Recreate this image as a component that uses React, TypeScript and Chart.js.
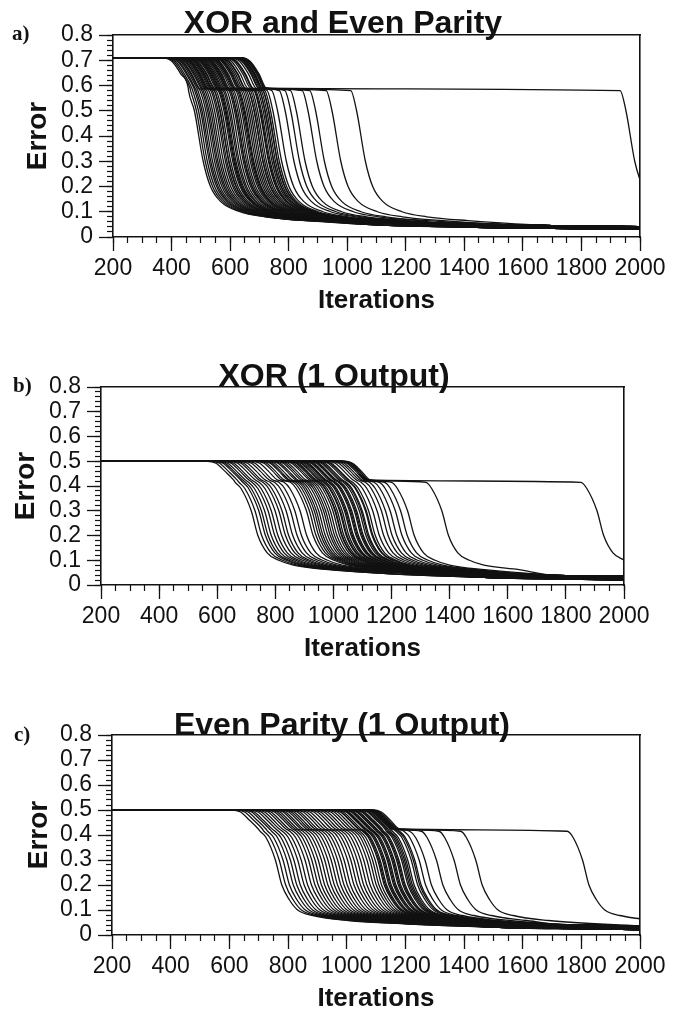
import React, { useEffect, useRef } from 'react';
import { Chart, registerables } from 'chart.js';

Chart.register(...registerables);

const FONT = "'Liberation Sans', Arial, Helvetica, sans-serif";
const SERIF = "'Liberation Serif', 'DejaVu Serif', serif";
const INK = '#121212';

// ---------- shared axes ----------
const xTickValues = [200, 400, 600, 800, 1000, 1200, 1400, 1600, 1800, 2000];
const xTickLabels = ['200', '400', '600', '800', '1000', '1200', '1400', '1600', '1800', '2000'];
const yTickValues = [0, 0.1, 0.2, 0.3, 0.4, 0.5, 0.6, 0.7, 0.8];
const yTickLabels = ['0', '0.1', '0.2', '0.3', '0.4', '0.5', '0.6', '0.7', '0.8'];
const xMinorStep = 50;
const yMinorStep = 0.02;

// ---------- panel a : XOR and Even Parity ----------
const startA = 0.71;
const onsetA = [372, 378, 384, 391, 395, 401, 406, 409, 415, 419, 424, 429, 433, 439, 444, 448, 453, 458, 461, 467, 471, 474, 481, 485, 489, 494, 499, 503, 509, 512, 518, 523, 527, 534, 541, 545, 553, 559, 567, 575, 584, 593, 603, 611, 618, 626, 631, 636, 639, 622, 614, 633, 624, 436, 452, 478, 505, 530, 548, 565, 590];
const breakA = [458, 465, 472, 479, 484, 490, 497, 503, 508, 514, 520, 527, 534, 539, 546, 552, 559, 563, 570, 576, 581, 588, 595, 600, 606, 612, 619, 624, 631, 637, 643, 649, 655, 662, 668, 674, 681, 687, 693, 699, 705, 711, 718, 726, 742, 768, 787, 806, 846, 872, 928, 1012, 1932, 545, 566, 600, 628, 662, 683, 699, 712];
const tailGroupA = [0, 1, 2, 0, 2, 1, 1, 0, 2, 1, 0, 2, 1, 1, 0, 2, 0, 1, 2, 1, 0, 2, 1, 0, 1, 2, 0, 1, 2, 1, 0, 2, 1, 0, 2, 1, 1, 0, 2, 1, 0, 2, 1, 2, 0, 1, 2, 1, 0, 2, 1, 2, 1, 0, 2, 1, 0, 2, 1, 0, 2];
const fall1DxA = [0, 30, 60, 85];
const fall1YA = [0.71, 0.695, 0.645, 0.59];
const fall2DxA = [0, 20, 50, 75, 110, 175, 260, 400];
const fall2YA = [0.58, 0.5, 0.3, 0.2, 0.14, 0.1, 0.08, 0.065];
const tailXA = [1100, 1400, 1700, 2000];
const tailLowA = [0.048, 0.04, 0.034, 0.031];
const tailMidA = [0.055, 0.046, 0.04, 0.036];
const tailHighA = [0.063, 0.052, 0.045, 0.041];

// ---------- panel b : XOR (1 Output) ----------
const startB = 0.5;
const onsetB = [566, 578, 590, 597, 606, 618, 627, 640, 652, 661, 674, 688, 700, 716, 731, 740, 752, 758, 767, 779, 786, 797, 805, 814, 826, 833, 841, 850, 858, 869, 876, 884, 893, 902, 911, 919, 928, 940, 951, 963, 976, 988, 998, 1007, 1016, 1024, 1031, 1036, 1021, 1029, 845, 862, 880, 898, 916, 934, 958];
const breakB = [662, 675, 688, 697, 708, 720, 731, 744, 757, 768, 782, 797, 812, 830, 852, 862, 871, 879, 886, 894, 903, 911, 918, 926, 934, 943, 950, 958, 966, 975, 983, 991, 1000, 1008, 1017, 1025, 1034, 1044, 1055, 1066, 1080, 1095, 1110, 1124, 1140, 1158, 1176, 1200, 1318, 1852, 952, 969, 987, 1004, 1021, 1040, 1058];
const tailGroupB = [0, 0, 1, 2, 0, 1, 2, 1, 0, 2, 1, 0, 2, 1, 1, 0, 2, 0, 1, 2, 1, 0, 2, 1, 0, 1, 2, 0, 1, 2, 1, 0, 2, 1, 0, 2, 1, 1, 0, 2, 1, 0, 2, 1, 2, 0, 1, 2, 1, 2, 0, 2, 1, 0, 2, 1, 0];
const fall1DxB = [0, 30, 60, 90];
const fall1YB = [0.5, 0.492, 0.46, 0.425];
const fall2DxB = [0, 20, 55, 78, 110, 150, 200, 320];
const fall2YB = [0.415, 0.39, 0.3, 0.2, 0.13, 0.1, 0.08, 0.062];
const tailXB = [1200, 1500, 1800, 2000];
const tailLowB = [0.045, 0.032, 0.025, 0.021];
const tailMidB = [0.052, 0.038, 0.031, 0.028];
const tailHighB = [0.06, 0.045, 0.038, 0.035];

// ---------- panel c : Even Parity (1 Output) ----------
const startC = 0.5;
const onsetC = [608, 622, 634, 646, 655, 668, 679, 690, 702, 712, 724, 733, 742, 753, 761, 772, 781, 790, 801, 810, 822, 833, 845, 858, 870, 881, 893, 904, 916, 927, 938, 949, 958, 968, 976, 985, 994, 1003, 1012, 1021, 1030, 1040, 1050, 1060, 1068, 1075, 1082, 1088, 1062, 1079, 1070, 1066, 950, 972, 990, 1008, 1025, 1045, 1056, 1072];
const breakC = [705, 718, 731, 744, 756, 768, 781, 793, 806, 818, 829, 840, 851, 862, 873, 884, 895, 906, 917, 928, 939, 951, 962, 973, 984, 995, 1006, 1017, 1027, 1036, 1045, 1054, 1062, 1070, 1078, 1086, 1094, 1102, 1110, 1118, 1126, 1135, 1145, 1156, 1168, 1180, 1195, 1215, 1254, 1314, 1388, 1752, 1058, 1074, 1090, 1106, 1122, 1140, 1150, 1175];
const tailGroupC = [0, 1, 0, 2, 1, 0, 2, 1, 1, 0, 2, 1, 0, 2, 1, 0, 1, 2, 0, 1, 2, 1, 0, 2, 0, 1, 2, 1, 0, 2, 1, 1, 0, 2, 1, 0, 2, 1, 0, 1, 2, 0, 1, 2, 1, 0, 2, 1, 2, 1, 2, 1, 0, 2, 1, 0, 2, 1, 0, 2];
const fall1DxC = [0, 30, 60, 90];
const fall1YC = [0.5, 0.492, 0.46, 0.425];
const fall2DxC = [0, 20, 52, 74, 100, 128, 180, 300];
const fall2YC = [0.415, 0.39, 0.3, 0.2, 0.14, 0.1, 0.078, 0.058];
const tailXC = [1200, 1500, 1800, 2000];
const tailLowC = [0.045, 0.032, 0.025, 0.022];
const tailMidC = [0.052, 0.038, 0.032, 0.029];
const tailHighC = [0.059, 0.045, 0.039, 0.036];

const specA = { letter: 'a)', title: 'XOR and Even Parity', start: startA, onset: onsetA, brk: breakA, group: tailGroupA, f1x: fall1DxA, f1y: fall1YA, f2x: fall2DxA, f2y: fall2YA, tailX: tailXA, tails: [tailLowA, tailMidA, tailHighA] };
const specB = { letter: 'b)', title: 'XOR (1 Output)', start: startB, onset: onsetB, brk: breakB, group: tailGroupB, f1x: fall1DxB, f1y: fall1YB, f2x: fall2DxB, f2y: fall2YB, tailX: tailXB, tails: [tailLowB, tailMidB, tailHighB] };
const specC = { letter: 'c)', title: 'Even Parity (1 Output)', start: startC, onset: onsetC, brk: breakC, group: tailGroupC, f1x: fall1DxC, f1y: fall1YC, f2x: fall2DxC, f2y: fall2YC, tailX: tailXC, tails: [tailLowC, tailMidC, tailHighC] };

// ---------- layout (pixels) ----------
const frameA = { canvasTop: 0, left: 113, right: 640, top: 35, bottom: 237, yTitlePad: 21, titleCx: 343, titleTop: 6, letterX: 12, letterTop: 23 };
const frameB = { canvasTop: 350, left: 101, right: 624, top: 387, bottom: 585, yTitlePad: 9, titleCx: 334, titleTop: 359, letterX: 13, letterTop: 375 };
const frameC = { canvasTop: 695, left: 112, right: 640, top: 735, bottom: 935, yTitlePad: 22, titleCx: 342, titleTop: 708, letterX: 14, letterTop: 724 };
const X_AXIS_H = 73;

function buildCurve(spec: any, i: number) {
  const pts: { x: number; y: number }[] = [{ x: 200, y: spec.start }];
  const push = (x: number, y: number) => {
    const last = pts[pts.length - 1];
    if (last.x >= 2000) return;
    if (x > last.x + 0.5) pts.push({ x, y });
  };
  const t1 = spec.onset[i];
  const t2 = spec.brk[i];
  spec.f1x.forEach((dx: number, k: number) => push(t1 + dx, spec.f1y[k]));
  spec.f2x.forEach((dx: number, k: number) => push(t2 + dx, spec.f2y[k]));
  const tail = spec.tails[spec.group[i]];
  spec.tailX.forEach((x: number, k: number) => {
    const last = pts[pts.length - 1];
    if ((x > last.x + 150 && tail[k] < last.y) || x === 2000) push(x, tail[k]);
  });
  return pts;
}

function Panel({ spec, frame }: { spec: any; frame: any }) {
  const ref = useRef<HTMLCanvasElement | null>(null);
  const canvasH = frame.bottom - frame.canvasTop + X_AXIS_H;

  useEffect(() => {
    if (!ref.current) return;
    const datasets = spec.onset.map((_: number, i: number) => ({
      data: buildCurve(spec, i),
      borderColor: INK,
      borderWidth: 1.3,
      pointRadius: 0,
      pointHoverRadius: 0,
      cubicInterpolationMode: 'monotone',
      fill: false,
    }));
    const tickFont = { family: FONT, size: 23 };
    const chart = new Chart(ref.current, {
      type: 'line',
      data: { datasets },
      options: {
        animation: false,
        responsive: false,
        maintainAspectRatio: false,
        devicePixelRatio: 1,
        events: [],
        layout: { padding: { left: 0, right: 673 - frame.right, top: frame.top - frame.canvasTop, bottom: 0 } },
        plugins: { legend: { display: false }, tooltip: { enabled: false }, title: { display: false } },
        scales: {
          x: {
            type: 'linear', position: 'bottom', weight: 1, min: 200, max: 2000,
            afterBuildTicks: (s: any) => { s.ticks = xTickValues.map((v) => ({ value: v })); },
            afterFit: (s: any) => { s.height = X_AXIS_H; },
            ticks: { autoSkip: false, maxRotation: 0, minRotation: 0, padding: 4, color: INK, font: tickFont,
              callback: (_v: any, i: number) => xTickLabels[i] },
            grid: { drawOnChartArea: false, drawTicks: true, tickLength: 14, tickColor: INK, tickWidth: 1.3 },
            border: { display: true, color: INK, width: 1.6 },
            title: { display: true, text: 'Iterations', color: INK, font: { family: FONT, size: 26, weight: 'bold' }, padding: { top: 0, bottom: -6 } },
          },
          xm: {
            type: 'linear', position: 'bottom', weight: 0, min: 200, max: 2000,
            afterFit: (s: any) => { s.height = 0; },
            ticks: { display: false, stepSize: xMinorStep, autoSkip: false },
            grid: { drawOnChartArea: false, drawTicks: true, tickLength: 6, tickColor: INK, tickWidth: 1.2 },
            border: { display: false },
          },
          xt: {
            type: 'linear', position: 'top', min: 200, max: 2000,
            afterFit: (s: any) => { s.height = 0; },
            ticks: { display: false },
            grid: { drawOnChartArea: false, drawTicks: false },
            border: { display: true, color: INK, width: 1.6 },
          },
          y: {
            type: 'linear', position: 'left', weight: 1, min: 0, max: 0.8,
            afterBuildTicks: (s: any) => { s.ticks = yTickValues.map((v) => ({ value: v })); },
            afterFit: (s: any) => { s.width = frame.left; },
            ticks: { autoSkip: false, padding: 6, color: INK, font: tickFont,
              callback: (_v: any, i: number) => yTickLabels[i] },
            grid: { drawOnChartArea: false, drawTicks: true, tickLength: 14, tickColor: INK, tickWidth: 1.3 },
            border: { display: true, color: INK, width: 1.6 },
            title: { display: true, text: 'Error', color: INK, font: { family: FONT, size: 28, weight: 'bold' }, padding: { top: frame.yTitlePad, bottom: 0 } },
          },
          ym: {
            type: 'linear', position: 'left', weight: 0, min: 0, max: 0.8,
            afterFit: (s: any) => { s.width = 0; },
            ticks: { display: false, stepSize: yMinorStep, autoSkip: false },
            grid: { drawOnChartArea: false, drawTicks: true, tickLength: 6, tickColor: INK, tickWidth: 1.2 },
            border: { display: false },
          },
          yr: {
            type: 'linear', position: 'right', min: 0, max: 0.8,
            afterFit: (s: any) => { s.width = 0; },
            ticks: { display: false },
            grid: { drawOnChartArea: false, drawTicks: false },
            border: { display: true, color: INK, width: 1.6 },
          },
        },
      } as any,
    } as any);
    return () => chart.destroy();
  }, []);

  return (
    <div style={{ position: 'absolute', left: 0, top: frame.canvasTop, width: 673, height: canvasH }}>
      <canvas ref={ref} width={673} height={canvasH} style={{ display: 'block', width: 673, height: canvasH }} />
      <div style={{ position: 'absolute', left: frame.letterX, top: frame.letterTop - frame.canvasTop, fontFamily: SERIF, fontWeight: 'bold', fontSize: 21, lineHeight: '21px', color: INK }}>
        {spec.letter}
      </div>
      <div style={{ position: 'absolute', left: frame.titleCx - 260, width: 520, top: frame.titleTop - frame.canvasTop, textAlign: 'center', fontFamily: FONT, fontWeight: 'bold', fontSize: 32, lineHeight: '32px', color: INK, whiteSpace: 'nowrap' }}>
        {spec.title}
      </div>
    </div>
  );
}

export default function App() {
  return (
    <div style={{ position: 'absolute', left: 0, top: 0, width: 673, height: 1010, background: '#fff', overflow: 'hidden' }}>
      <Panel spec={specA} frame={frameA} />
      <Panel spec={specB} frame={frameB} />
      <Panel spec={specC} frame={frameC} />
    </div>
  );
}
